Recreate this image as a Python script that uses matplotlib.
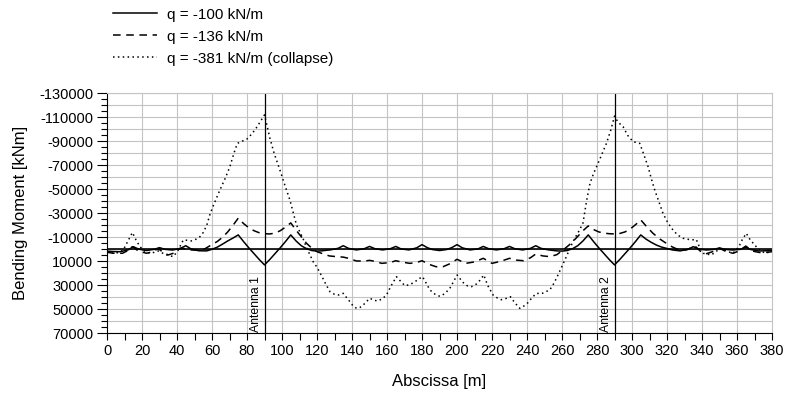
import matplotlib
matplotlib.use("Agg")
import numpy as np
import matplotlib.pyplot as plt
from matplotlib.ticker import FixedLocator, MultipleLocator

plt.rcParams['font.family'] = ['Liberation Sans', 'DejaVu Sans']
plt.rcParams['axes.unicode_minus'] = False
plt.rcParams['lines.scale_dashes'] = False

# Bending moment along the deck [kNm] for three load levels (x in m)
x_q100 = [0, 3, 7.5, 12, 15, 18, 22.5, 27, 30, 33, 37.5, 42, 45, 48, 52.5, 57, 60,
          63, 66, 69, 72, 75, 78, 81, 84, 87, 90, 93, 96, 99, 102, 105, 108, 111,
          114, 117, 120, 123, 127.5, 132, 135, 138, 142.5, 147, 150, 153, 157.5,
          162, 165, 168, 172.5, 177, 180, 183, 186, 190, 194, 197, 200, 203, 207.5,
          212, 215, 218, 222.5, 227, 230, 233, 237.5, 242, 245, 248, 252.5, 257,
          260, 263, 266, 269, 272, 275, 278, 281, 284, 287, 290, 293, 296, 299,
          302, 305, 308, 311, 314, 317, 320, 323, 327.5, 332, 335, 338, 342.5,
          347, 350, 353, 357.5, 362, 365, 368, 372.5, 377, 380]
m_q100 = [1500, 1800, 2000, 500, -2200, -200, 1000, 0, -1400, 0, 600, -800, -3000,
          -300, 1200, 1300, 0, -1800, -4300, -7000, -9400, -12000, -6500, -1300,
          3600, 8500, 13000, 8500, 3600, -1300, -6500, -12000, -7000, -3000, -500,
          1000, 1500, 1200, 500, -800, -3000, -800, 500, -500, -2400, -550, 500,
          -550, -2400, -350, 500, -1250, -3900, -1400, 200, 1000, 200, -1400, -3900,
          -1250, 500, -350, -2400, -550, 500, -550, -2400, -500, 500, -800, -3000,
          -800, 500, 1300, 1500, 1000, -500, -3000, -7000, -12000, -6500, -1300,
          3600, 8500, 13000, 8500, 3600, -1300, -6500, -12000, -8500, -5800, -3500,
          -1800, -700, 500, 1300, 0, -2200, -300, 600, 0, -1200, 0, 600, 0, -1600,
          200, 1400, 1200, 800]

x_q136 = [0, 4, 8.8, 12, 14.5, 18, 22.6, 26, 29.3, 32, 35, 38.5, 41.7, 45, 48, 52,
          56, 60, 63, 66, 69, 72, 75, 78, 81, 84, 87, 90, 93, 96, 99, 102, 105, 108,
          111, 114, 117, 120, 123, 127, 131, 135, 138, 142.5, 147, 150, 153, 157,
          162, 165, 168, 173, 177, 180, 184, 188, 192, 196, 200, 205, 210, 215, 220,
          225, 230, 234, 238, 242, 245, 249, 253, 257, 260.6, 264, 268, 272, 275,
          278, 281, 284, 287, 290, 293, 296, 299, 302, 305, 308, 312, 316, 319.6,
          323, 327, 331, 336, 339, 342, 346, 350, 354, 357.7, 361, 365, 369, 373,
          377, 380]
m_q136 = [2500, 3300, 3300, 1000, -2200, 1500, 3300, 2000, -600, 2500, 4700, 3000,
          -800, -500, 500, 800, -500, -4000, -6500, -10000, -14500, -20000, -26000,
          -21500, -18000, -15500, -13800, -13000, -12800, -13500, -15500, -18500,
          -22000, -16000, -10500, -5000, -1000, 2000, 3500, 5500, 6100, 6500, 7500,
          9700, 9800, 9200, 10000, 11700, 11000, 9500, 10500, 11700, 11000, 9500,
          12500, 14500, 14500, 12000, 8300, 11700, 10500, 7500, 11700, 10000, 7500,
          9000, 9500, 7000, 3900, 5500, 6100, 4500, 600, -3500, -9200, -15500, -19500,
          -16500, -14500, -13500, -13000, -12800, -13200, -14500, -17000, -20500,
          -24500, -19500, -13300, -8500, -5000, -2000, 600, 500, -2700, 1500, 3900,
          2000, -800, 2000, 3300, 1500, -2700, 1500, 2700, 2500, 2000]

x_q381 = [0, 2.5, 4.6, 7, 9.3, 12, 14.5, 16.5, 18.8, 21.5, 24.5, 27, 29.3, 31.5,
          34.1, 37.9, 40.5, 43.6, 46, 48.3, 51, 53.1, 55, 57, 59, 61.5, 64.5, 67.5,
          70.2, 72.5, 74.5, 77, 79.8, 82, 84.5, 87, 90, 93.1, 95.5, 98.8, 101.5,
          104.5, 108.3, 112, 114, 117.8, 120, 122.6, 125, 127.4, 130, 132.1, 135,
          137, 138.8, 140.5, 142.6, 144.5, 146.4, 148.3, 150.2, 152.5, 155, 157.5,
          159.7, 162.5, 165.4, 168, 170.2, 173, 176, 178.3, 180.3, 182.5, 184.5,
          187.5, 190.2, 193, 195.9, 198, 200.1, 202, 204, 206, 208.3, 211, 213,
          215.3, 217.5, 220.6, 223, 225.3, 228, 230.5, 233, 235.9, 238, 240.6, 243,
          245.4, 248.3, 250.5, 253, 255.5, 257.7, 260, 262.5, 265, 267.3, 270, 272,
          274, 276, 278, 280.6, 283, 285.4, 288, 290, 292, 294.9, 297.5, 300.6,
          304.4, 306.5, 309.2, 311, 313, 315.8, 317.7, 320.5, 323.4, 326, 329.1,
          333.9, 336.7, 338.5, 340.6, 345.3, 348, 350, 353, 357.7, 361, 363, 365.3,
          367.5, 371, 373.5, 376.7, 380]
m_q381 = [2000, 3000, 3300, 2500, 500, -7000, -14000, -8000, -2200, 1500, 3300, 2500,
          1400, 3000, 4700, 6100, 1000, -7800, -7500, -7000, -8500, -10500, -14000,
          -20000, -30000, -39000, -49400, -59000, -68800, -80000, -88300, -90000,
          -91700, -95000, -99400, -105000, -112000, -92500, -80000, -66100, -54000,
          -41100, -20200, -9000, -1500, 10300, 15000, 22000, 29000, 35300, 37500,
          38100, 36700, 40500, 43600, 47000, 49200, 48500, 46400, 43500, 40800,
          42500, 43000, 41000, 38100, 30000, 22800, 27000, 30300, 29500, 27000,
          24500, 22800, 28500, 33900, 37500, 39200, 37000, 32500, 27000, 21400,
          25000, 28500, 30500, 31100, 29000, 26000, 21400, 30000, 38100, 40500,
          42000, 41000, 39500, 44500, 49200, 47500, 44400, 40000, 36700, 37000,
          35500, 33900, 28000, 21400, 14000, 6100, -2500, -9200, -16000, -22000,
          -40000, -55000, -63000, -71700, -80000, -88300, -100000, -111000, -106000,
          -102200, -95000, -89700, -88300, -80000, -68800, -59000, -49400, -38000,
          -30000, -22000, -16100, -12000, -9200, -7800, -8300, -2000, 3300, 4700,
          2000, -800, 1000, 3300, -2000, -8000, -13300, -8000, -2200, 1500, 3300,
          1000]

series_labels = ["q = -100 kN/m", "q = -136 kN/m", "q = -381 kN/m (collapse)"]

antenna_x = [90, 290]
antenna_labels = ["Antenna 1", "Antenna 2"]

x_ticks = list(range(0, 381, 20))
y_ticks = [-130000, -110000, -90000, -70000, -50000, -30000, -10000,
           10000, 30000, 50000, 70000]
y_ticklabels = [str(v) for v in y_ticks]

fig = plt.figure(figsize=(7.88, 4.01), dpi=100)
ax = fig.add_axes([0.1358, 0.1688, 0.8439, 0.5985])
ax.set_xlim(0, 380)
ax.set_ylim(70000, -130000)

grid_color = "#c4c4c4"
for gx in np.arange(20, 380, 20):
    ax.axvline(gx, color=grid_color, lw=0.8, zorder=0)
for gy in np.arange(-130000, 70001, 10000):
    ax.axhline(gy, color=grid_color, lw=0.8, zorder=0)

ax.axhline(0, color="black", lw=1.2, zorder=2)
for ant_x, ant_label in zip(antenna_x, antenna_labels):
    ax.axvline(ant_x, color="black", lw=0.9, zorder=2)
    ax.text(ant_x - 1.2, 69000, ant_label, rotation=90, ha="right", va="bottom",
            fontsize=8.8)

l1, = ax.plot(x_q100, m_q100, color="black", lw=1.1, zorder=3)
l2, = ax.plot(x_q136, m_q136, color="black", lw=1.1, dashes=(5.5, 4.0), zorder=3)
l3, = ax.plot(x_q381, m_q381, color="black", lw=1.1, dashes=(1.1, 2.4), zorder=3)

for side in ("top", "right"):
    ax.spines[side].set_color(grid_color)
    ax.spines[side].set_linewidth(0.8)
for side in ("left", "bottom"):
    ax.spines[side].set_color("black")
    ax.spines[side].set_linewidth(0.8)

ax.xaxis.set_major_locator(FixedLocator(x_ticks))
ax.xaxis.set_minor_locator(MultipleLocator(10))
ax.set_xticklabels([str(v) for v in x_ticks])
ax.yaxis.set_major_locator(FixedLocator(y_ticks))
ax.yaxis.set_minor_locator(MultipleLocator(5000))
ax.set_yticklabels(y_ticklabels)
ax.tick_params(axis="x", which="both", direction="out", length=5, width=0.8,
               labelsize=10.5, pad=2.5)
ax.tick_params(axis="y", which="major", direction="out", length=7, width=0.8,
               labelsize=10.5, pad=3)
ax.tick_params(axis="y", which="minor", direction="out", length=4, width=0.8)

ax.set_xlabel("Abscissa [m]", fontsize=12, labelpad=12)
ax.set_ylabel("Bending Moment [kNm]", fontsize=12, labelpad=8)

fig.legend([l1, l2, l3], series_labels, loc="upper left",
           bbox_to_anchor=(0.1434, 0.981), frameon=False, fontsize=11,
           handlelength=2.9, handletextpad=0.65, labelspacing=0.52,
           borderpad=0, borderaxespad=0)

fig.savefig("out.png", dpi=100)
